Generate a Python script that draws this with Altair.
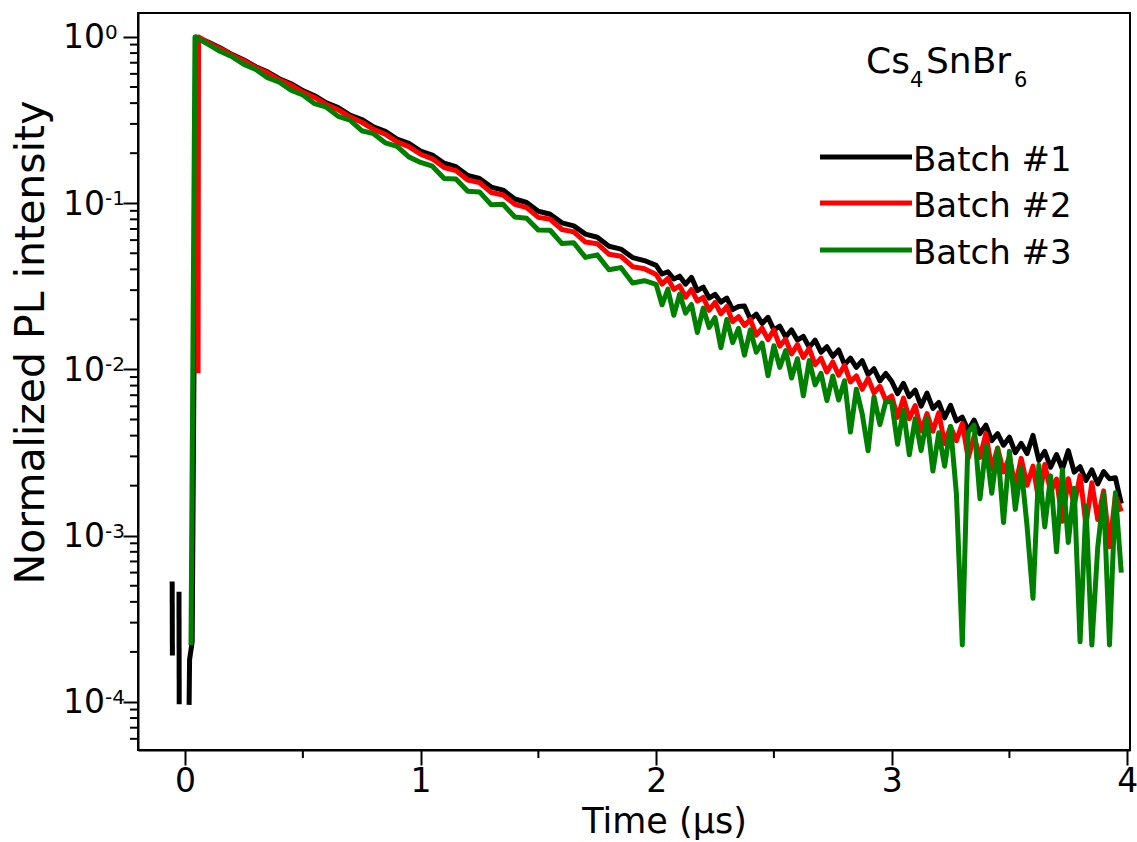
import altair as alt
import pandas as pd

# ---------------- data ----------------
TIME = [0.1, 0.15, 0.2, 0.25, 0.3, 0.35, 0.4, 0.45, 0.5,
        0.55, 0.6, 0.65, 0.7, 0.75, 0.8, 0.85, 0.9, 0.95, 1.0,
        1.05, 1.1, 1.15, 1.2, 1.25, 1.3, 1.35, 1.4, 1.45, 1.5, 1.55, 1.6, 1.65, 1.7, 1.75, 1.8, 1.85, 1.9, 1.95,
        2.0, 2.025, 2.05, 2.075, 2.1, 2.125, 2.15, 2.175, 2.2, 2.225, 2.25, 2.275, 2.3, 2.325, 2.35, 2.375,
        2.4, 2.425, 2.45, 2.475, 2.5, 2.525, 2.55, 2.575, 2.6, 2.625, 2.65, 2.675, 2.7, 2.725, 2.75, 2.775,
        2.8, 2.825, 2.85, 2.875, 2.9, 2.925, 2.95, 2.975,
        3.0, 3.025, 3.05, 3.075, 3.1, 3.125, 3.15, 3.175, 3.2, 3.225, 3.25, 3.275, 3.3, 3.325, 3.35, 3.375,
        3.4, 3.425, 3.45, 3.475, 3.5, 3.525, 3.55, 3.575, 3.6, 3.625, 3.65, 3.675, 3.7, 3.725, 3.75, 3.775,
        3.8, 3.825, 3.85, 3.875, 3.9, 3.925, 3.95, 3.975]

BATCH1 = [0.929, 0.858, 0.783, 0.727, 0.662, 0.617, 0.561, 0.523, 0.476,
          0.443, 0.402, 0.376, 0.339, 0.319, 0.288, 0.271, 0.243, 0.229, 0.206,
          0.195, 0.174, 0.166, 0.147, 0.141, 0.125, 0.120, 0.106, 0.101, 0.0895, 0.0858, 0.0762, 0.0731, 0.0652,
          0.0624, 0.0551, 0.0530, 0.0471, 0.0452,
          0.0423, 0.0375, 0.0387, 0.0350, 0.0364, 0.0326, 0.0358, 0.0298, 0.0313, 0.0269, 0.0283, 0.0254, 0.0269,
          0.0229, 0.0239, 0.0241, 0.0201, 0.0215, 0.0189, 0.0206, 0.0173, 0.0182, 0.0157, 0.0173, 0.0150, 0.0158,
          0.0136, 0.0150, 0.0127, 0.0137, 0.0120, 0.0131, 0.0107, 0.0117, 0.0103, 0.0113, 0.00932, 0.0101,
          0.00854, 0.00946,
          0.00849, 0.00715, 0.00825, 0.00686, 0.00750, 0.00602, 0.00721, 0.00583, 0.00633, 0.00512, 0.00609,
          0.00490, 0.00516, 0.00430, 0.00496, 0.00411, 0.00463, 0.00373, 0.00411, 0.00350, 0.00391, 0.00316,
          0.00359, 0.00312, 0.00401, 0.00284, 0.00322, 0.00258, 0.00308, 0.00252, 0.00325, 0.00241, 0.00260,
          0.00215, 0.00249, 0.00205, 0.00243, 0.00220, 0.00223, 0.00156]

BATCH2 = [0.920, 0.849, 0.776, 0.720, 0.655, 0.609, 0.552, 0.514, 0.466,
          0.433, 0.393, 0.365, 0.331, 0.307, 0.278, 0.260, 0.234, 0.219, 0.197,
          0.185, 0.164, 0.157, 0.138, 0.133, 0.116, 0.112, 0.0985, 0.0941, 0.0822, 0.0801, 0.0695, 0.0672,
          0.0584, 0.0571, 0.0493, 0.0480, 0.0415, 0.0404,
          0.0373, 0.0326, 0.0353, 0.0303, 0.0318, 0.0272, 0.0303, 0.0258, 0.0271, 0.0227, 0.0253, 0.0216,
          0.0239, 0.0194, 0.0208, 0.0184, 0.0200, 0.0161, 0.0177, 0.0151, 0.0173, 0.0138, 0.0152, 0.0124,
          0.0141, 0.0118, 0.0134, 0.0107, 0.0117, 0.00966, 0.0111, 0.00924, 0.0106, 0.00842, 0.00915, 0.00760,
          0.00884, 0.00724, 0.00792, 0.00653,
          0.00693, 0.00515, 0.00672, 0.00506, 0.00606, 0.00427, 0.00542, 0.00425, 0.00549, 0.00358, 0.00453,
          0.00373, 0.00473, 0.00293, 0.00396, 0.00296, 0.00411, 0.00251, 0.00337, 0.00242, 0.00297, 0.00198,
          0.00292, 0.00201, 0.00262, 0.00162, 0.00268, 0.00184, 0.00219, 0.00122, 0.00220, 0.00152, 0.00230,
          0.00116, 0.00208, 0.00125, 0.00186, 0.000858, 0.00175, 0.00140]

BATCH3 = [0.899, 0.818, 0.760, 0.684, 0.638, 0.569, 0.535, 0.478, 0.448,
          0.397, 0.378, 0.333, 0.316, 0.273, 0.262, 0.231, 0.220, 0.190, 0.176,
          0.167, 0.141, 0.140, 0.118, 0.117, 0.0978, 0.0985, 0.0826, 0.0812, 0.0689, 0.0688, 0.0572, 0.0578,
          0.0472, 0.0489, 0.0398, 0.0410, 0.0331, 0.0342,
          0.0325, 0.0245, 0.0304, 0.0212, 0.0284, 0.0218, 0.0246, 0.0167, 0.0234, 0.0179, 0.0205, 0.0135,
          0.0200, 0.0145, 0.0177, 0.0122, 0.0173, 0.0127, 0.0144, 0.00917, 0.0139, 0.0103, 0.0130, 0.00888,
          0.0116, 0.00694, 0.0113, 0.00808, 0.00948, 0.00650, 0.00913, 0.00655, 0.00856, 0.00420, 0.00761,
          0.00541, 0.00324, 0.00684, 0.00466, 0.00641,
          0.00638, 0.00355, 0.00569, 0.00307, 0.00506, 0.00325, 0.00508, 0.00245, 0.00416, 0.00262, 0.00454,
          0.00178, 0.00022, 0.00419, 0.00462, 0.00167, 0.00347, 0.00180, 0.00335, 0.00120, 0.00322, 0.00144,
          0.00258, 0.00114, 0.00042, 0.00265, 0.00113, 0.00229, 0.00080, 0.00249, 0.00091, 0.00193, 0.00023,
          0.00151, 0.00022, 0.00085, 0.00178, 0.00022, 0.00181, 0.00060]

# pre-pulse background (separate pieces) and rising edges
B1_SEG_A_T = [-0.055, -0.054]
B1_SEG_A_Y = [5.3e-4, 1.9e-4]
B1_SEG_B_T = [-0.026, -0.025]
B1_SEG_B_Y = [4.6e-4, 9.7e-5]
B1_RISE_T = [0.017, 0.019, 0.030, 0.047]
B1_RISE_Y = [9.6e-5, 1.8e-4, 2.3e-4, 1.0]
B2_RISE_T = [0.055, 0.057]
B2_RISE_Y = [0.0095, 1.0]
B3_RISE_T = [0.025, 0.042]
B3_RISE_Y = [2.2e-4, 1.0]

SERIES = ["Batch #1", "Batch #2", "Batch #3"]
COLORS = ["#000000", "#ff0000", "#008000"]

X_MAJOR = [0, 1, 2, 3, 4]
X_MINOR = [0.5, 1.5, 2.5, 3.5]
Y_MAJOR = [1, 0.1, 0.01, 0.001, 0.0001]
Y_EXP = ["0", "-1", "-2", "-3", "-4"]

# ---------------- build tables ----------------
rows = []


def add(series, seg, ts, ys):
    for t, y in zip(ts, ys):
        rows.append({"series": series, "seg": seg, "t": t, "y": y})


add("Batch #1", "a", B1_SEG_A_T, B1_SEG_A_Y)
add("Batch #1", "b", B1_SEG_B_T, B1_SEG_B_Y)
add("Batch #1", "c", B1_RISE_T + TIME, B1_RISE_Y + BATCH1)
add("Batch #2", "c", B2_RISE_T + TIME, B2_RISE_Y + BATCH2)
add("Batch #3", "c", B3_RISE_T + TIME, B3_RISE_Y + BATCH3)
df = pd.DataFrame(rows)

minor_y = []
for k in range(-5, 0):
    for m in range(2, 10):
        v = m * 10.0 ** k
        if 5.2e-5 < v < 1.0:
            minor_y.append(v)
df_ymin = pd.DataFrame({"v": minor_y})
df_xmin = pd.DataFrame({"v": X_MINOR})
df_ylab = pd.DataFrame({"v": Y_MAJOR, "e": Y_EXP})
one = pd.DataFrame({"a": [0]})

FONT = "DejaVu Sans"
W, H = 992, 737

xscale = alt.Scale(domain=[-0.2, 4.012], nice=False, zero=False)
yscale = alt.Scale(type="log", domain=[5.14e-5, 1.394], nice=False)

xaxis = alt.Axis(values=X_MAJOR, format="d", title="Time (µs)", grid=False,
                 tickSize=15, tickWidth=2, tickColor="black", domainColor="black", domainWidth=2,
                 labelFont=FONT, labelFontSize=33, labelColor="black", labelPadding=0, labelFlush=False,
                 titleFont=FONT, titleFontSize=35, titleFontWeight="normal", titleColor="black",
                 titleX=526, titleY=82, titleBaseline="alphabetic")
yaxis = alt.Axis(values=Y_MAJOR, labels=False, title="Normalized PL intensity", grid=False,
                 tickSize=15, tickWidth=2, tickColor="black", domainColor="black", domainWidth=2,
                 titleFont=FONT, titleFontSize=41, titleFontWeight="normal", titleColor="black",
                 titleX=-95, titleY=329, titleAngle=-90, titleBaseline="alphabetic")

layers = []
for name, color in zip(SERIES, COLORS):
    layers.append(
        alt.Chart(df[df.series == name]).mark_line(
            color=color, strokeWidth=5, strokeJoin="round", strokeCap="butt"
        ).encode(
            x=alt.X("t:Q", scale=xscale, axis=xaxis),
            y=alt.Y("y:Q", scale=yscale, axis=yaxis),
            detail="seg:N",
        )
    )

# minor ticks
layers.append(alt.Chart(df_ymin).mark_rule(color="black", strokeWidth=2).encode(
    y=alt.Y("v:Q", scale=yscale, axis=yaxis), x=alt.value(-8), x2=alt.value(0)))
layers.append(alt.Chart(df_xmin).mark_rule(color="black", strokeWidth=2).encode(
    x=alt.X("v:Q", scale=xscale, axis=xaxis), y=alt.value(H), y2=alt.value(H + 8)))

# y tick labels 10^k
layers.append(alt.Chart(df_ylab).mark_text(font=FONT, fontSize=33, align="right", baseline="alphabetic",
                                            dy=11.5, color="black").encode(
    y=alt.Y("v:Q", scale=yscale, axis=yaxis), x=alt.value(-33), text=alt.value("10")))
layers.append(alt.Chart(df_ylab).mark_text(font=FONT, fontSize=20, align="left", baseline="alphabetic",
                                            dy=2, color="black").encode(
    y=alt.Y("v:Q", scale=yscale, axis=yaxis), x=alt.value(-33), text="e:N"))

# legend drawn by hand
LEG_Y = [144, 190, 237]
for name, color, ly in zip(SERIES, COLORS, LEG_Y):
    layers.append(alt.Chart(one).mark_rule(color=color, strokeWidth=5).encode(
        x=alt.value(682), x2=alt.value(774), y=alt.value(ly)))
    layers.append(alt.Chart(one).mark_text(font=FONT, fontSize=34, align="left", baseline="alphabetic",
                                           color="black", text=name).encode(
        x=alt.value(775), y=alt.value(ly + 14)))

# Cs4SnBr6 label
for txt, xp, yp, fs in [("Cs", 728, 60, 36), ("4", 772, 74, 21), ("SnBr", 788, 60, 36), ("6", 876, 74, 21)]:
    layers.append(alt.Chart(one).mark_text(font=FONT, fontSize=fs, align="left", baseline="alphabetic",
                                           color="black", text=txt).encode(
        x=alt.value(xp), y=alt.value(yp)))

chart = alt.layer(*layers).properties(
    width=W, height=H,
    autosize=alt.AutoSizeParams(type="none"),
    padding={"left": 138, "top": 13, "right": 7, "bottom": 92},
    background="white",
).configure_view(stroke="black", strokeWidth=2)

chart.save("out.html", embed_options={"renderer": "svg", "actions": False})
